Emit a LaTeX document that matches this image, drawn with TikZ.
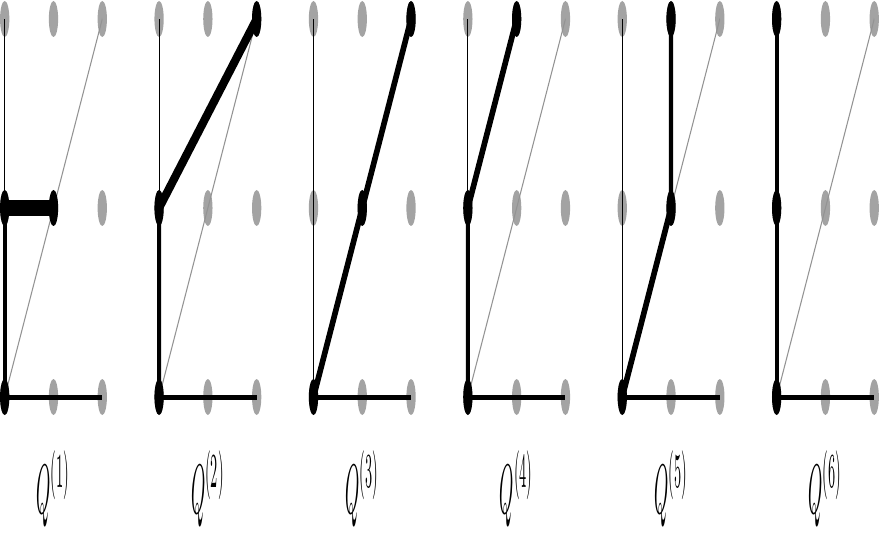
\documentclass[tikz,border=0pt]{standalone}
\usepackage{graphicx}
\definecolor{dotgray}{gray}{0.64}
\begin{document}
\begin{tikzpicture}[x=1pt,y=1pt,
  gdot/.style={circle,fill=dotgray,draw=none,minimum size=36pt,inner sep=0pt},
  bdot/.style={circle,fill=black,draw=none,minimum size=36pt,inner sep=0pt},
  thinblk/.style={draw=black,line width=4pt},
  graydiag/.style={draw=dotgray!90!black,line width=3pt},
  baseline/.style={draw=black,line width=5pt},
  thickp/.style={draw=black,line width=16pt,line join=round},
  lbl/.style={anchor=base,inner sep=0pt}]
\useasboundingbox (0,0) rectangle (880,533);
\begin{scope}[transform canvas={xscale=0.258}]
\foreach \p/\ax/\ay/\bx/\by [count=\k] in {0/0/1/1/1, 1/0/1/2/2, 2/1/1/2/2, 3/0/1/1/2, 4/1/1/1/2, 5/0/1/0/2} {
  \begin{scope}[shift={(18.2+598.4*\p,136)}]
    \foreach \i in {0,1,2} {
      \foreach \j in {0,1,2} {
        \node[gdot] (p\k-\i\j) at (189.1*\i,189*\j) {};
      }
    }
    \draw[graydiag] (p\k-00.center) -- (p\k-22.center);
    \draw[thinblk] (p\k-00.center) -- (p\k-02.center);
    \draw[baseline] (p\k-00.center) -- (p\k-20.center);
    \draw[thickp] (p\k-00.center) -- (p\k-\ax\ay.center) -- (p\k-\bx\by.center);
    \node[bdot] (b\k-a) at (p\k-00) {};
    \node[bdot] (b\k-b) at (p\k-\ax\ay) {};
    \node[bdot] (b\k-c) at (p\k-\bx\by) {};
    \node[lbl] (q\k) at (189.1,-116) {\scalebox{7}{$Q^{(\k)}$}};
  \end{scope}
}
\end{scope}
\end{tikzpicture}
\end{document}
